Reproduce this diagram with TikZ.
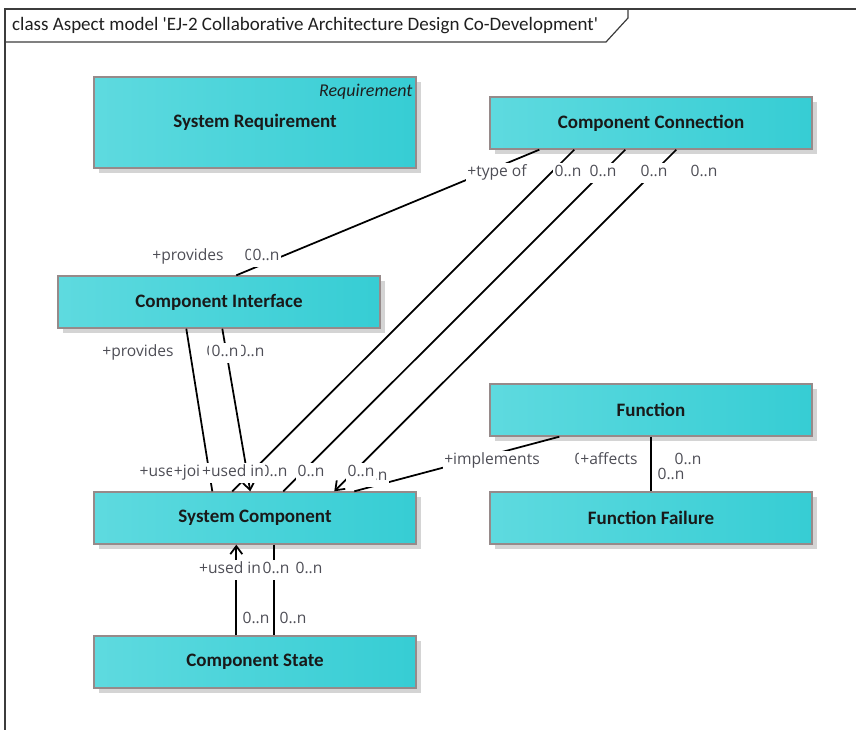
\documentclass[tikz,border=0pt]{standalone}
\usepackage{fontspec}
\setmainfont{Carlito}
\newfontfamily\rolefont{Open Sans}
\usetikzlibrary{arrows.meta,shadows}
\definecolor{boxleft}{RGB}{94,218,223}
\definecolor{boxright}{RGB}{54,205,212}
\definecolor{boxedge}{RGB}{150,138,138}
\definecolor{framecol}{RGB}{60,60,60}
\definecolor{rolecol}{RGB}{78,78,86}

\begin{document}
\begin{tikzpicture}[x=1pt,y=-1pt,
  classbox/.style={draw=boxedge, line width=1.4pt, left color=boxleft, right color=boxright,
    minimum width=322pt, minimum height=52pt, inner sep=0pt, text=black!90,
    font=\fontsize{19}{22}\selectfont\bfseries,
    drop shadow={shadow xshift=5pt, shadow yshift=-5pt, fill=black!17, opacity=1}},
  role/.style={fill=white, text=rolecol, font=\rolefont\fontsize{15.6}{18}\selectfont,
    inner xsep=1.5pt, inner ysep=2.5pt, text height=11pt, text depth=4pt, yshift=-3pt},
  assoc/.style={draw=black, line width=1.75pt},
  nav/.style={-{Straight Barb[length=8pt,width=12pt]}}
]
\useasboundingbox (0,0) rectangle (856,730);

% diagram frame and title tab
\draw[framecol, line width=1.2pt] (856,9) -- (5,9) -- (5,730);
\draw[framecol, line width=1.2pt] (5,42) -- (606,42) -- (628,18) -- (628,9);
\node[anchor=west, inner sep=0pt, text=black!88, font=\fontsize{19}{22}\selectfont] (title) at (12,26)
  {class Aspect model \textquotesingle EJ-2 Collaborative Architecture Design Co-Development\textquotesingle};

% classes
\node[classbox, minimum height=91pt] (SR) at (255,122.5) {System Requirement};
\node[anchor=east, inner sep=0pt, text=black!88, font=\itshape\fontsize{18}{21}\selectfont] (SRst)
  at ([xshift=-4pt, yshift=-15pt]SR.north east) {Requirement};
\node[classbox] (CC) at (651,123) {Component Connection};
\node[classbox] (CI) at (219,302) {Component Interface};
\node[classbox] (F)  at (651,410) {Function};
\node[classbox] (SC) at (255,518) {System Component};
\node[classbox] (FF) at (651,518) {Function Failure};
\node[classbox] (CS) at (255,662) {Component State};

% associations
\draw[assoc] ([xshift=50pt]CC.south west) -- ([xshift=179pt]CI.north west);
\draw[assoc] ([xshift=85pt]CC.south west) -- ([xshift=139pt]SC.north west);
\draw[assoc] ([xshift=136pt]CC.south west) -- ([xshift=190pt]SC.north west);
\draw[assoc, nav] ([xshift=187pt]CC.south west) -- ([xshift=241pt]SC.north west);
\draw[assoc] ([xshift=129pt]CI.south west) -- ([xshift=119pt]SC.north west);
\draw[assoc, nav] ([xshift=165pt]CI.south west) -- ([xshift=157pt]SC.north west);
\draw[assoc] ([xshift=70pt]F.south west) -- ([xshift=261pt]SC.north west);
\draw[assoc] ([xshift=162pt]F.south west) -- ([xshift=162pt]FF.north west);
\draw[assoc, nav] ([xshift=143pt]CS.north west) -- ([xshift=143pt]SC.south west);
\draw[assoc] ([xshift=181pt]SC.south west) -- ([xshift=181pt]CS.north west);

% role names and multiplicities
\node[role] (r1) at (497,170) {+type of};
\node[role] (r2) at (568,170) {0..n};
\node[role] (r3) at (603,170) {0..n};
\node[role] (r4) at (654,170) {0..n};
\node[role] (r5) at (704,170) {0..n};

\node[role] (r6) at (188,254) {+provides};
\node[role] (r7) at (258,254) {0..n};
\node[role] (r8) at (266,254) {0..n};

\node[role] (r9)  at (138,350) {+provides};
\node[role] (r10) at (220,350) {0..n};
\node[role] (r11) at (251,350) {0..n};
\node[role, inner xsep=3pt] (r12) at (225,350) {0..n};

\node[role] (r13) at (157,470) {+use};
\node[role] (r14) at (187,470) {+joi};
\node[role] (r15) at (274,470) {0..n};
\node[role] (r16) at (233,470) {+used in};
\node[role] (r17) at (311,470) {0..n};
\node[role] (r18) at (374,474) {0..n};
\node[role] (r19) at (361,470) {0..n};

\node[role] (r20) at (492,458) {+implements};
\node[role] (r21) at (588,458) {0..n};
\node[role] (r22) at (609,458) {+affects};
\node[role] (r24) at (688,458) {0..n};
\node[role] (r23) at (671,473) {0..n};

\node[role] (r25) at (230,567) {+used in};
\node[role] (r26) at (276,567) {0..n};
\node[role] (r27) at (309,567) {0..n};
\node[role] (r28) at (256,617) {0..n};
\node[role] (r29) at (293,617) {0..n};
\end{tikzpicture}
\end{document}
